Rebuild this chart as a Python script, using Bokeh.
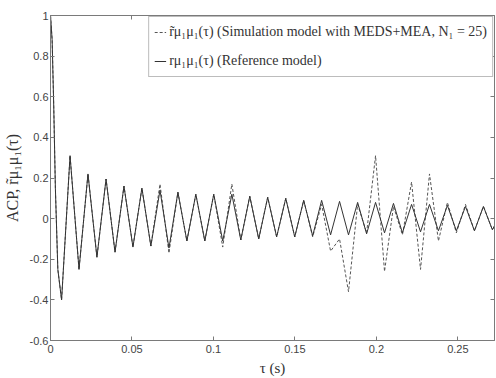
from bokeh.plotting import figure
from bokeh.models import Range1d, LinearAxis, FixedTicker, Legend, LegendItem, CustomJSTickFormatter
from bokeh.embed import file_html
from bokeh.resources import INLINE

# ---- data (extrema of the oscillating ACFs) ----
tau_ref = [0.0, 0.001, 0.002, 0.003, 0.0045, 0.0068,
           0.0120, 0.0175, 0.0230, 0.0285, 0.0341, 0.0396, 0.0451, 0.0506,
           0.0561, 0.0616, 0.0672, 0.0727, 0.0782, 0.0837, 0.0892, 0.0947,
           0.1002, 0.1057, 0.1113, 0.1168, 0.1223, 0.1278, 0.1333, 0.1388,
           0.1444, 0.1499, 0.1554, 0.1609, 0.1664, 0.1719, 0.1774, 0.1829,
           0.1885, 0.1940, 0.1995, 0.2050, 0.2105, 0.2160, 0.2216, 0.2271,
           0.2326, 0.2381, 0.2436, 0.2491, 0.2547, 0.2602, 0.2657, 0.2712, 0.2725]
acf_ref = [1.0, 0.88, 0.55, 0.15, -0.25, -0.40,
           0.31, -0.25, 0.22, -0.19, 0.195, -0.165, 0.16, -0.14,
           0.15, -0.135, 0.14, -0.145, 0.13, -0.11, 0.12, -0.11,
           0.12, -0.11, 0.12, -0.105, 0.11, -0.10, 0.105, -0.09,
           0.10, -0.09, 0.09, -0.085, 0.09, -0.08, 0.085, -0.08,
           0.08, -0.075, 0.08, -0.07, 0.075, -0.07, 0.07, -0.065,
           0.07, -0.06, 0.065, -0.06, 0.06, -0.06, 0.06, -0.055, -0.035]

tau_sim = tau_ref
acf_sim = [1.0, 0.88, 0.55, 0.15, -0.25, -0.40,
           0.31, -0.25, 0.22, -0.19, 0.195, -0.165, 0.16, -0.14,
           0.15, -0.135, 0.17, -0.17, 0.13, -0.11, 0.12, -0.11,
           0.12, -0.14, 0.17, -0.105, 0.11, -0.10, 0.105, -0.09,
           0.10, -0.09, 0.09, -0.09, 0.07, -0.16, -0.10, -0.36,
           0.07, -0.07, 0.31, -0.26, 0.06, -0.08, 0.18, -0.25,
           0.22, -0.11, 0.08, -0.07, 0.07, -0.06, 0.06, -0.055, -0.035]

x_ticks = [0.0, 0.05, 0.1, 0.15, 0.2, 0.25]
x_tick_labels = ["0", "0.05", "0.1", "0.15", "0.2", "0.25"]
y_ticks = [-0.6, -0.4, -0.2, 0.0, 0.2, 0.4, 0.6, 0.8, 1.0]
y_tick_labels = ["-0.6", "-0.4", "-0.2", "0", "0.2", "0.4", "0.6", "0.8", "1"]

label_sim = "r\u0303\u03bc\u2081\u03bc\u2081(\u03c4) (Simulation model with MEDS+MEA, N\u2081 = 25)"
label_ref = "r\u03bc\u2081\u03bc\u2081(\u03c4) (Reference model)"
x_label = "\u03c4 (s)"
y_label = "ACP, r\u0303\u03bc\u2081\u03bc\u2081(\u03c4)"

SERIF = "Liberation Serif"
SANS = "Liberation Sans"
FRAME = "#7a7a7a"

p = figure(width=496, height=378, output_backend="svg", toolbar_location=None,
           x_range=Range1d(0, 0.2725), y_range=Range1d(-0.6, 1.0),
           min_border_left=0, min_border_right=2, min_border_top=15, min_border_bottom=0)
p.xgrid.visible = False
p.ygrid.visible = False
p.outline_line_color = FRAME
p.outline_line_width = 1
p.background_fill_color = "white"

r_sim = p.line(tau_sim, acf_sim, line_color="#555555", line_width=1, line_dash="3 2")
r_ref = p.line(tau_ref, acf_ref, line_color="#333333", line_width=1)

def style_axis(ax, ticks):
    ax.ticker = FixedTicker(ticks=ticks)
    ax.axis_line_color = FRAME
    ax.major_tick_line_color = FRAME
    ax.major_tick_in = 4
    ax.major_tick_out = 0
    ax.minor_tick_line_color = None
    ax.major_label_text_font = SANS
    ax.major_label_text_font_size = "11px"
    ax.major_label_text_color = "#444444"
    ax.axis_label_text_font = SERIF
    ax.axis_label_text_font_size = "15px"
    ax.axis_label_text_font_style = "normal"
    ax.axis_label_text_color = "#333333"

xa = p.xaxis[0]
style_axis(xa, x_ticks)
xa.major_label_overrides = dict(zip(x_ticks, x_tick_labels))
xa.major_label_standoff = 4
xa.axis_label = x_label
xa.axis_label_standoff = 4

ya = p.yaxis[0]
style_axis(ya, y_ticks)
ya.major_label_overrides = dict(zip(y_ticks, y_tick_labels))
ya.major_label_standoff = 2
ya.axis_label = y_label
ya.axis_label_text_font_size = "16px"
ya.axis_label_standoff = 6

blank = CustomJSTickFormatter(code="return ''")
top = LinearAxis(formatter=blank)
style_axis(top, x_ticks)
top.major_label_text_font_size = "0px"
top.major_label_standoff = 0
p.add_layout(top, "above")
right = LinearAxis(formatter=blank)
style_axis(right, y_ticks)
right.major_label_text_font_size = "0px"
right.major_label_standoff = 0
p.add_layout(right, "right")

legend = Legend(items=[LegendItem(label=label_sim, renderers=[r_sim]),
                       LegendItem(label=label_ref, renderers=[r_ref])],
                location="top_right", margin=1, padding=5, spacing=9,
                glyph_width=12, glyph_height=20, label_height=20, label_standoff=3,
                label_text_font=SERIF, label_text_font_size="14px",
                label_text_color="#333333",
                border_line_color=FRAME, border_line_width=1,
                background_fill_color="white", background_fill_alpha=1)
p.add_layout(legend)

open("out.html", "w").write(file_html(p, INLINE))
